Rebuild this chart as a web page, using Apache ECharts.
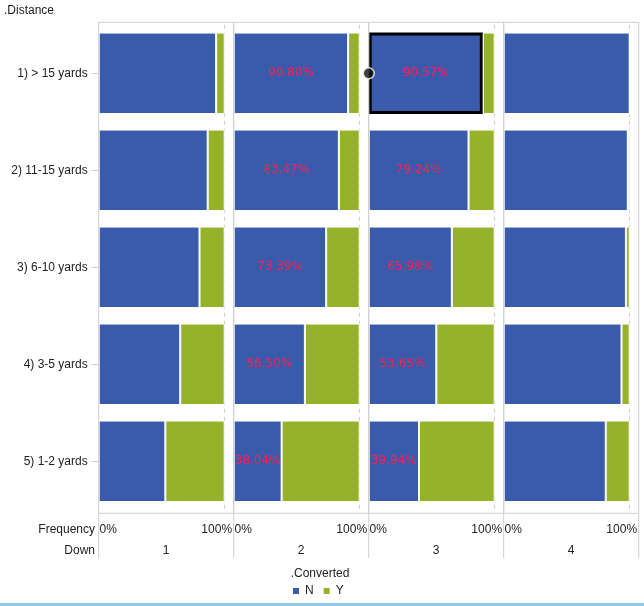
<!DOCTYPE html>
<html>
<head>
<meta charset="utf-8">
<style>
  html, body { margin: 0; padding: 0; background: #fff; }
  #chart { width: 644px; height: 606px; }
</style>
<script src="https://cdn.jsdelivr.net/npm/echarts@6/dist/echarts.min.js"></script>
</head>
<body>
<div id="chart"></div>
<script>
  var downs = ["1", "2", "3", "4"];
  var distances = ["1) > 15 yards", "2) 11-15 yards", "3) 6-10 yards", "4) 3-5 yards", "5) 1-2 yards"];
  // share of "N" per down, one value per distance
  var convertedN = [
    [0.932, 0.865, 0.800, 0.647, 0.529],
    [0.9080, 0.8347, 0.7339, 0.5650, 0.3804],
    [0.9057, 0.7924, 0.6598, 0.5365, 0.3994],
    [1.000, 0.985, 0.970, 0.935, 0.810]
  ];
  // share of "Y" per down
  var convertedY = [
    [0.068, 0.135, 0.200, 0.353, 0.471],
    [0.0920, 0.1653, 0.2661, 0.4350, 0.6196],
    [0.0943, 0.2076, 0.3402, 0.4635, 0.6006],
    [0.000, 0.015, 0.030, 0.065, 0.190]
  ];
  var labelledDowns = [false, true, true, false];
  var selected = { down: 2, distance: 0 };

  var font = "Liberation Sans, Arial, sans-serif";
  var colN = "#3a5aab", colY = "#95b22a", lineCol = "#cfcfcf";
  var left0 = 98.7, colW = 135, plotW = 126;
  var frameTop = 22.3, frameH = 491;   // panel border
  var top0 = 24.8, plotH = 485;        // category band area

  var grids = [], xAxes = [], yAxes = [], series = [], graphics = [];

  downs.forEach(function(d, i) {
    grids.push({ left: left0 + i * colW, top: top0, width: colW, height: plotH });
    xAxes.push({
      type: "value", gridIndex: i, min: 0, max: colW / plotW, interval: 1,
      name: d, nameLocation: "middle", nameGap: 35,
      nameTextStyle: { fontFamily: font, fontSize: 12, color: "#222" },
      axisLine: { show: false },
      axisTick: { show: false },
      splitLine: { show: true, showMinLine: false, showMaxLine: false,
        lineStyle: { color: lineCol, type: [4, 4] } },
      axisLabel: {
        margin: 13.5, showMaxLabel: false, fontFamily: font, fontSize: 12, color: "#222",
        formatter: function(v) {
          return v === 0 ? "{l|0%}" : "{r|100%}";
        },
        rich: {
          l: { padding: [0, 0, 0, 19], fontFamily: font, fontSize: 12, color: "#222" },
          r: { padding: [0, 16, 0, 0], fontFamily: font, fontSize: 12, color: "#222" }
        }
      }
    });
    yAxes.push({
      type: "category", gridIndex: i, data: distances, inverse: true,
      axisLine: { show: false },
      axisTick: { show: i === 0, alignWithLabel: true, length: 7, lineStyle: { color: lineCol } },
      axisLabel: { show: i === 0, margin: 11, fontFamily: font, fontSize: 12, color: "#222" },
      splitLine: { show: false }
    });

    var nData = convertedN[i].map(function(v, k) {
      if (i === selected.down && k === selected.distance) {
        return { value: v, itemStyle: { borderColor: "#000", borderWidth: 3 } };
      }
      return v;
    });
    series.push({
      name: "N", type: "bar", stack: "s" + i, xAxisIndex: i, yAxisIndex: i,
      data: nData, barCategoryGap: "16%",
      itemStyle: { color: colN, borderColor: "#fff", borderWidth: 1 },
      label: {
        show: labelledDowns[i], position: "inside",
        fontFamily: "DejaVu Sans, sans-serif", fontSize: 12, color: "#ff1e50",
        formatter: function(p) { return (p.value * 100).toFixed(2) + "%"; }
      }
    });
    series.push({
      name: "Y", type: "bar", stack: "s" + i, xAxisIndex: i, yAxisIndex: i,
      data: convertedY[i], barCategoryGap: "16%",
      itemStyle: { color: colY, borderColor: "#fff", borderWidth: 1 }
    });

    // panel frame and separator under the axis
    graphics.push({ type: "rect", z: 3, shape: { x: left0 + i * colW, y: frameTop, width: colW, height: frameH },
      style: { fill: null, stroke: lineCol, lineWidth: 1 } });
    graphics.push({ type: "line", shape: { x1: left0 + i * colW, y1: frameTop + frameH, x2: left0 + i * colW, y2: 558 },
      style: { stroke: lineCol, lineWidth: 1 } });
  });
  graphics.push({ type: "line", shape: { x1: left0 + 4 * colW, y1: frameTop + frameH, x2: left0 + 4 * colW, y2: 558 },
    style: { stroke: lineCol, lineWidth: 1 } });

  // marker of the selected bar
  series.push({
    type: "scatter", xAxisIndex: selected.down, yAxisIndex: selected.down,
    data: [[0, distances[selected.distance]]], symbolSize: 11, z: 20,
    itemStyle: { color: "#111", borderColor: "#fff", borderWidth: 1.5 }, silent: true
  });

  graphics.push(
    { type: "text", left: 4, top: 5, style: { text: ".Distance", font: "12px " + font, fill: "#222" } },
    { type: "text", x: 95, y: 530, style: { text: "Frequency", font: "12px " + font, fill: "#222", align: "right", verticalAlign: "middle" } },
    { type: "text", x: 95, y: 551, style: { text: "Down", font: "12px " + font, fill: "#222", align: "right", verticalAlign: "middle" } },
    { type: "text", x: 320, y: 574, style: { text: ".Converted", font: "12px " + font, fill: "#222", align: "center", verticalAlign: "middle" } },
    { type: "rect", shape: { x: 0, y: 603, width: 644, height: 3 }, style: { fill: "#8ecbea" } }
  );

  var chart = echarts.init(document.getElementById("chart"));
  chart.setOption({
    animation: false,
    grid: grids,
    xAxis: xAxes,
    yAxis: yAxes,
    legend: {
      data: ["N", "Y"], left: 291, top: 585, padding: 0, icon: "rect",
      itemWidth: 8, itemHeight: 8, itemGap: 8,
      textStyle: { fontFamily: font, fontSize: 12, color: "#222" }
    },
    series: series,
    graphic: graphics
  });
</script>
</body>
</html>
